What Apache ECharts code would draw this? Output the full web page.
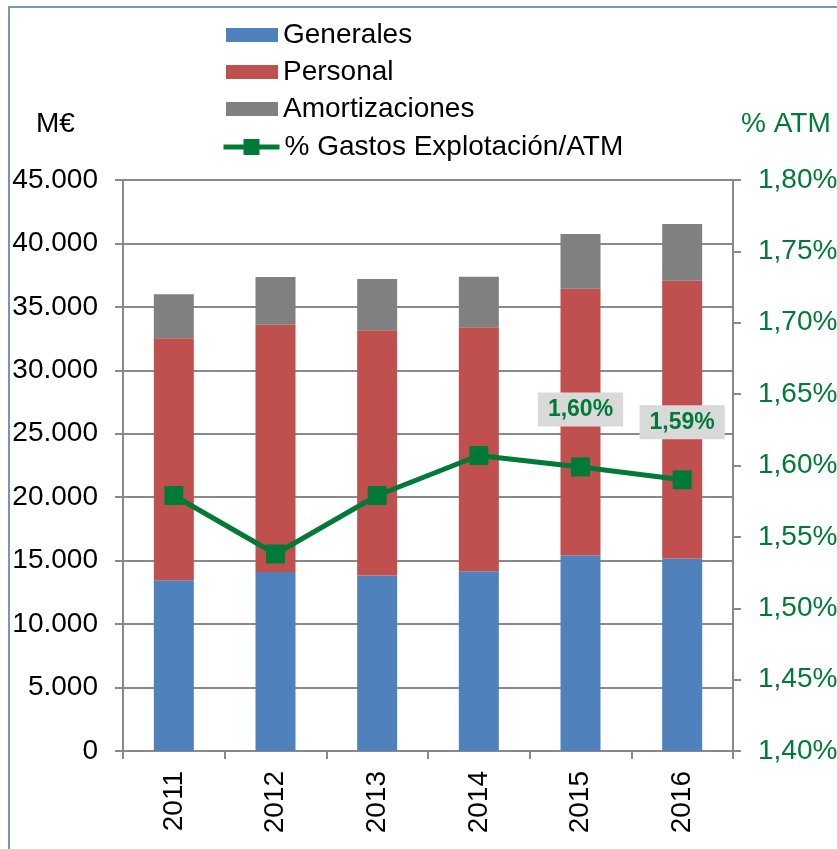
<!DOCTYPE html>
<html>
<head>
<meta charset="utf-8">
<script src="https://cdn.jsdelivr.net/npm/echarts@6/dist/echarts.min.js"></script>
<style>
  html, body { margin: 0; padding: 0; background: #fff; }
  #chart { width: 837px; height: 849px; }
</style>
</head>
<body>
<div id="chart"></div>
<script>
var years = ['2011', '2012', '2013', '2014', '2015', '2016'];
var generales = [13450, 14110, 13840, 14160, 15420, 15180];
var personal = [19070, 19480, 19310, 19230, 21010, 21880];
var amortizaciones = [3480, 3760, 4040, 3990, 4310, 4470];
var gastosAtm = [1.579, 1.538, 1.579, 1.607, 1.599, 1.590];
var labeledYears = ['2015', '2016'];

var font = '"Liberation Sans", Arial, sans-serif';
var green = '#007A37';
var gridGray = '#898989';

var chartDom = document.getElementById('chart');
var myChart = echarts.init(chartDom);
var option;

function fmtThousands(v) {
    return String(Math.round(v)).replace(/\B(?=(\d{3})+(?!\d))/g, '.');
}
function fmtPct(v) {
    return v.toFixed(2).replace('.', ',') + '%';
}

var lineData = gastosAtm.map(function (v, i) {
    var item = { value: v };
    if (labeledYears.indexOf(years[i]) >= 0) {
        item.label = { show: true };
    }
    return item;
});

var legendText = { fontSize: 28, fontFamily: font, color: '#000', lineHeight: 28 };

option = {
    animation: false,
    textStyle: { fontFamily: font },
    graphic: [
        {
            type: 'rect',
            shape: { x: 9, y: 7, width: 900, height: 900 },
            style: { fill: 'none', stroke: '#4a72a8', lineWidth: 1.5 },
            silent: true
        },
        {
            type: 'text',
            left: 36, top: 110,
            style: { text: 'M€', fontSize: 28, fontFamily: font, fill: '#000' }
        },
        {
            type: 'text',
            left: 741, top: 110,
            style: { text: '% ATM', fontSize: 28, fontFamily: font, fill: green }
        }
    ],
    legend: [
        {
            orient: 'vertical',
            left: 221,
            top: 16,
            icon: 'rect',
            itemWidth: 52,
            itemHeight: 14,
            itemGap: 9,
            data: ['Generales', 'Personal', 'Amortizaciones'],
            textStyle: legendText
        },
        {
            orient: 'vertical',
            left: 216,
            top: 128,
            itemWidth: 56,
            itemHeight: 20,
            lineStyle: { width: 5 },
            data: ['% Gastos Explotación/ATM'],
            textStyle: legendText
        }
    ],
    grid: {
        left: 123,
        right: 104,
        top: 180,
        bottom: 98,
        outerBoundsMode: 'none'
    },
    xAxis: {
        type: 'category',
        data: years,
        axisLine: { lineStyle: { color: gridGray, width: 2 } },
        axisTick: { show: true, length: 8, lineStyle: { color: gridGray, width: 2 } },
        axisLabel: { rotate: 90, margin: 20, fontSize: 28, color: '#000', fontFamily: font }
    },
    yAxis: [
        {
            type: 'value',
            min: 0,
            max: 45000,
            interval: 5000,
            axisLine: { show: true, lineStyle: { color: gridGray, width: 2 } },
            axisTick: { show: true, length: 8, lineStyle: { color: gridGray, width: 2 } },
            axisLabel: { margin: 25, fontSize: 28, color: '#000', fontFamily: font, formatter: fmtThousands },
            splitLine: { lineStyle: { color: gridGray, width: 2 } }
        },
        {
            type: 'value',
            min: 1.4,
            max: 1.8,
            interval: 0.05,
            position: 'right',
            axisLine: { show: true, lineStyle: { color: gridGray, width: 2 } },
            axisTick: { show: true, length: 8, lineStyle: { color: gridGray, width: 2 } },
            axisLabel: { margin: 25, fontSize: 28, color: green, fontFamily: font, formatter: fmtPct },
            splitLine: { show: false }
        }
    ],
    series: [
        {
            name: 'Generales',
            type: 'bar',
            stack: 'gastos',
            barWidth: 40,
            itemStyle: { color: '#4F81BD' },
            data: generales
        },
        {
            name: 'Personal',
            type: 'bar',
            stack: 'gastos',
            barWidth: 40,
            itemStyle: { color: '#C0504D' },
            data: personal
        },
        {
            name: 'Amortizaciones',
            type: 'bar',
            stack: 'gastos',
            barWidth: 40,
            itemStyle: { color: '#808080' },
            data: amortizaciones
        },
        {
            name: '% Gastos Explotación/ATM',
            type: 'line',
            yAxisIndex: 1,
            symbol: 'rect',
            symbolSize: 19,
            z: 5,
            lineStyle: { color: green, width: 5 },
            itemStyle: { color: green },
            label: {
                show: false,
                position: 'top',
                distance: 31,
                formatter: function (p) { return fmtPct(p.value); },
                fontSize: 23,
                fontWeight: 'bold',
                fontFamily: font,
                color: green,
                backgroundColor: '#D9D9D9',
                padding: [6, 10, 5, 10]
            },
            data: lineData
        }
    ]
};

option && myChart.setOption(option);
</script>
</body>
</html>
